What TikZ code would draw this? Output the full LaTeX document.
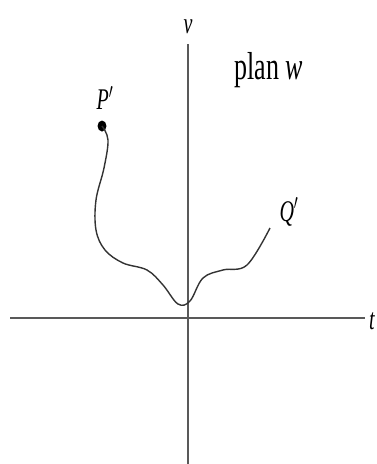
\documentclass[tikz,border=0pt]{standalone}
\usepackage{fontspec}
\setmainfont{Liberation Serif}
\usepackage{graphicx}
\begin{document}
\begin{tikzpicture}[x=1pt,y=-1pt,
  axis/.style={draw=black!65,line width=1.4pt},
  curvestyle/.style={draw=black!80,line width=1.4pt},
  lbl/.style={inner sep=0pt,font=\fontsize{20}{20}\selectfont}]
\useasboundingbox (0,0) rectangle (376,464);
\coordinate (vtop) at (188,44);
\coordinate (vbot) at (188,464);
\coordinate (hl) at (10,318);
\coordinate (hr) at (365,318);
\draw[axis] (vbot) -- (vtop);
\draw[axis] (hl) -- (hr);
\node[lbl] (v) at (188,27) {\scalebox{1}[1.5]{\itshape v}};
\node[lbl,anchor=west] (t) at (369,321) {\scalebox{1}[1.5]{\itshape t}};
\node[inner sep=0pt,font=\fontsize{26}{26}\selectfont] (plan) at (269,70) {\scalebox{1}[1.5]{plan \textit{w}}};
\node[lbl] (Plbl) at (105,98) {\scalebox{1}[1.5]{\itshape P$'$}};
\node[lbl] (Qlbl) at (289,212) {\scalebox{1}[1.5]{\itshape Q$'$}};
\coordinate (P) at (102,126);
\coordinate (Q) at (270,228);
\fill[black] (P) ellipse [x radius=4.5pt, y radius=5.5pt];
\draw[curvestyle] plot[smooth,tension=0.6] coordinates {(102,126) (108,140) (104,168) (96,200) (96,230) (105,250) (123,263) (147,270) (163,285) (178,304) (190,301) (203,278) (223,270) (247,265) (270,228)};
\end{tikzpicture}
\end{document}
